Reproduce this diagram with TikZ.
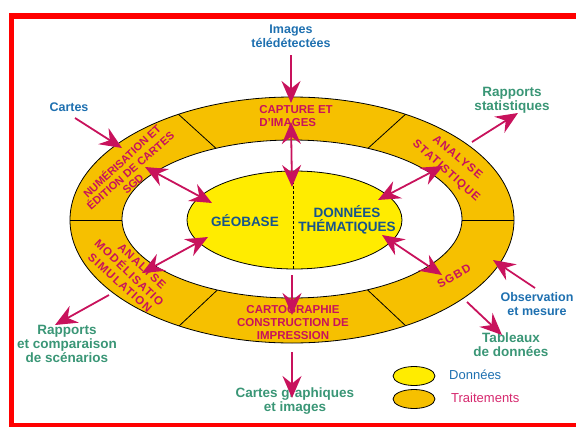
\documentclass[tikz,border=0pt]{standalone}
\usepackage{fontspec}
\setmainfont{Liberation Sans}
\usetikzlibrary{arrows.meta}
\definecolor{mag}{RGB}{200,18,92}
\definecolor{gold}{RGB}{246,192,0}
\definecolor{yel}{RGB}{255,236,0}
\definecolor{tblue}{RGB}{30,112,176}
\definecolor{dblue}{RGB}{22,84,140}
\definecolor{tteal}{RGB}{58,150,118}
\definecolor{pinktxt}{RGB}{214,40,110}
\begin{document}
\begin{tikzpicture}[x=1pt,y=-1pt,
  bluelbl/.style={font=\bfseries\fontsize{12.5}{14}\selectfont, align=center, inner sep=0pt, text=tblue},
  teallbl/.style={font=\bfseries\fontsize{13.5}{14}\selectfont, align=center, inner sep=0pt, text=tteal},
  ringtxt/.style={font=\bfseries\fontsize{11.5}{13}\selectfont, text=mag, align=center, inner sep=0pt},
  smallring/.style={font=\bfseries\fontsize{11}{12}\selectfont, text=mag, inner sep=0pt},
  spacedtxt/.style={font=\bfseries\fontsize{11.5}{13}\selectfont\addfontfeature{LetterSpace=10}, text=mag, inner sep=0pt},
  innertxt/.style={font=\bfseries\fontsize{13.5}{14.5}\selectfont, text=dblue, align=center, inner sep=0pt},
  connector/.style={draw=mag, line width=1.8pt, -{Stealth[length=22pt,width=19pt,inset=7.5pt]}},
  dconnector/.style={draw=mag, line width=1.8pt, {Stealth[length=22pt,width=19pt,inset=7.5pt]}-{Stealth[length=22pt,width=19pt,inset=7.5pt]}},
  divider/.style={draw=black, line width=0.8pt},
  legtxt/.style={font=\fontsize{13}{14}\selectfont, anchor=west, inner sep=0pt}]
\useasboundingbox (0,0) rectangle (576,426);
\clip (0,0) rectangle (576,426);

% red frame
\draw[red, line width=5.5pt] (11.5,16) rectangle (640,425.5);

% ring of processes
\fill[gold] (292,220) ellipse [x radius=222pt, y radius=123pt];
\begin{scope}
  \clip (292,220) ellipse [x radius=222pt, y radius=123pt];
  \draw[divider] (170,106.6) -- (220,152);
  \draw[divider] (414,106.6) -- (365,151);
  \draw[divider] (455,220) -- (530,220);
  \draw[divider] (55,220) -- (130,220);
  \draw[divider] (171,333.6) -- (220,287.5);
  \draw[divider] (414,333.6) -- (365,287.5);
\end{scope}
\filldraw[fill=white, divider] (292,219) ellipse [x radius=170pt, y radius=79pt];
\draw[divider] (292,220) ellipse [x radius=222pt, y radius=123pt];

% central data ellipse
\filldraw[fill=yel, divider] (294.5,220) ellipse [x radius=107.5pt, y radius=49pt];
\draw[line width=0.8pt, dash pattern=on 3pt off 2pt] (293,171) -- (293,269);
\node[innertxt] (geo) at (245,221) {GÉOBASE};
\node[innertxt] (them) at (347,220) {DONNÉES\\THÉMATIQUES};

% process labels in the ring
\node[ringtxt, align=left] (capt) at (296,116) {CAPTURE ET\\D'IMAGES};
\node[ringtxt] (carto) at (293,323) {CARTOGRAPHIE\\CONSTRUCTION DE\\IMPRESSION};
\node[smallring, rotate=43] (num1) at (121.6,160.7) {NUMÉRISATION ET};
\node[smallring, rotate=41] (num2) at (130,170) {ÉDITION DE CARTES};
\node[smallring, rotate=42] (num3) at (133.2,184) {SGD};
\node[spacedtxt, rotate=-40] (stat1) at (458,157) {ANALYSE};
\node[spacedtxt, rotate=-42] (stat2) at (446,171) {STATISTIQUE};
\node[spacedtxt, rotate=30] (sgbd) at (454,276) {SGBD};
\node[spacedtxt, rotate=-43] (mod1) at (142,266) {ANALYSE};
\node[spacedtxt, rotate=-44] (mod2) at (130,272) {MODÉLISATIO};
\node[spacedtxt, rotate=-42] (mod3) at (120,283) {SIMULATION};

% inputs and outputs
\node[bluelbl] (imgs) at (291,36) {Images\\télédétectées};
\node[bluelbl] (cartes) at (69,107) {Cartes};
\node[bluelbl] (obs) at (537,304.5) {Observation\\et mesure};
\node[teallbl] (rstat) at (512,100.5) {Rapports\\statistiques};
\node[teallbl] (tabl) at (511,344.5) {Tableaux\\de données};
\node[teallbl] (rcomp) at (67,344) {Rapports\\et comparaison\\de scénarios};
\node[teallbl] (cgraph) at (295,401) {Cartes graphiques\\et images};

% connector end points
\coordinate (i0) at (291,55);   \coordinate (i1) at (291,103);
\coordinate (c0) at (291,122);  \coordinate (c1) at (292,187);
\coordinate (k0) at (75,118);   \coordinate (k1) at (122,148);
\coordinate (n0) at (145,167);  \coordinate (n1) at (212,203);
\coordinate (s0) at (443,166);  \coordinate (s1) at (378,200);
\coordinate (r0) at (472,142);  \coordinate (r1) at (518,113);
\coordinate (b0) at (442,275);  \coordinate (b1) at (382,235);
\coordinate (o0) at (535,288);  \coordinate (o1) at (493,260);
\coordinate (t0) at (467,302);  \coordinate (t1) at (502,335);
\coordinate (m0) at (142,273);  \coordinate (m1) at (208,237);
\coordinate (p0) at (109,295);  \coordinate (p1) at (55,325);
\coordinate (g0) at (292,275);  \coordinate (g1) at (292,315);
\coordinate (h0) at (292,352);  \coordinate (h1) at (292,398);

\draw[connector] (i0) -- (i1);
\draw[dconnector] (c0) -- (c1);
\draw[connector] (k0) -- (k1);
\draw[dconnector] (n0) -- (n1);
\draw[dconnector] (s0) -- (s1);
\draw[connector] (r0) -- (r1);
\draw[dconnector] (b0) -- (b1);
\draw[connector] (o0) -- (o1);
\draw[connector] (t0) -- (t1);
\draw[dconnector] (m0) -- (m1);
\draw[connector] (p0) -- (p1);
\draw[connector] (g0) -- (g1);
\draw[connector] (h0) -- (h1);

% legend
\filldraw[fill=yel, divider] (414,376) ellipse [x radius=21pt, y radius=9.5pt];
\filldraw[fill=gold, divider] (414,399) ellipse [x radius=21pt, y radius=9.5pt];
\node[legtxt, text=tblue] (ldata) at (449,375) {Données};
\node[legtxt, text=pinktxt] (lproc) at (451,398) {Traitements};
\end{tikzpicture}
\end{document}
